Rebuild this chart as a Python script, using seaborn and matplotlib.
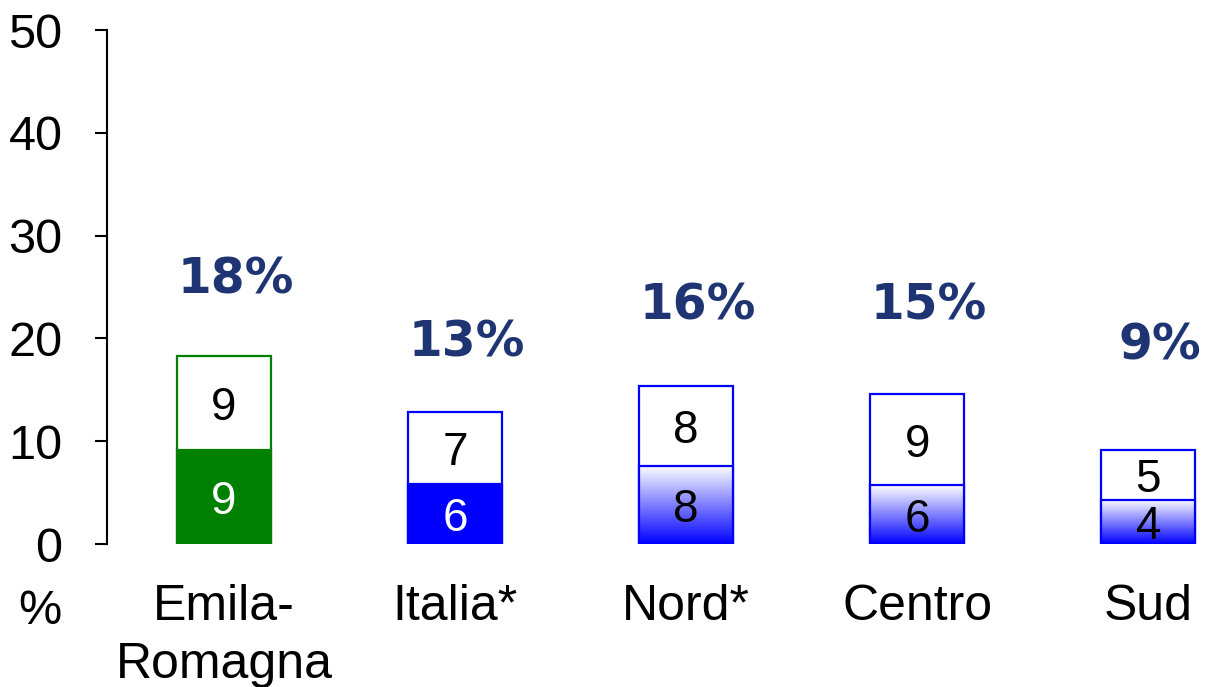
import numpy as np
import pandas as pd
import matplotlib
matplotlib.use("Agg")
import matplotlib.pyplot as plt
import seaborn as sns
from matplotlib.colors import LinearSegmentedColormap

categories = ["Emila-\nRomagna", "Italia*", "Nord*", "Centro", "Sud"]
bottom_vals = [9.1, 5.8, 7.6, 5.7, 4.3]
top_vals = [9.2, 7.0, 7.8, 8.9, 4.8]
bottom_labels = ["9", "6", "8", "6", "4"]
top_labels = ["9", "7", "8", "9", "5"]
total_labels = ["18%", "13%", "16%", "15%", "9%"]
yticks = [0, 10, 20, 30, 40, 50]

# styling (not data)
edge_colors = ["#008000", "#0000FF", "#0000FF", "#0000FF", "#0000FF"]
fill_colors = ["#008000", "#0000FF", None, None, None]  # None -> gradient
bottom_text_colors = ["white", "white", "black", "black", "black"]
label_offsets = [7.4, 6.8, 7.8, 8.6, 10.2]
navy = "#1F3573"

sns.set_theme(style="white")
plt.rcParams["font.family"] = ["Liberation Sans", "DejaVu Sans"]
plt.rcParams["text.color"] = "black"
plt.rcParams["xtick.color"] = "black"
plt.rcParams["ytick.color"] = "black"
plt.rcParams["axes.labelcolor"] = "black"

totals = [b + t for b, t in zip(bottom_vals, top_vals)]
df = pd.DataFrame({"cat": categories, "bottom": bottom_vals, "total": totals})

fig = plt.figure(figsize=(12.12, 6.87), dpi=100)
ax = fig.add_axes([107 / 1212, 143 / 687, 1106 / 1212, 514 / 687])

W = 0.407
sns.barplot(data=df, x="cat", y="total", ax=ax, width=W, color="white",
            saturation=1, zorder=2)
sns.barplot(data=df, x="cat", y="bottom", ax=ax, width=W, color="white",
            saturation=1, zorder=3)

n = len(categories)
top_patches = ax.patches[:n]
bot_patches = ax.patches[n:2 * n]

grad = np.linspace(0, 1, 256).reshape(-1, 1)
cmap = LinearSegmentedColormap.from_list("wb", ["#FFFFFF", "#0000FF"])

for i in range(n):
    tp = top_patches[i]
    bp = bot_patches[i]
    tp.set_facecolor("white")
    tp.set_edgecolor(edge_colors[i])
    tp.set_linewidth(1.6)
    bp.set_edgecolor(edge_colors[i])
    bp.set_linewidth(1.6)
    if fill_colors[i] is not None:
        bp.set_facecolor(fill_colors[i])
    else:
        bp.set_facecolor("none")
        x0 = bp.get_x()
        w = bp.get_width()
        h = bp.get_height()
        im = ax.imshow(grad[::-1], extent=[x0, x0 + w, 0, h], origin="lower",
                       cmap=cmap, aspect="auto", zorder=2.5,
                       interpolation="bicubic")
        im.set_clip_path(bp)
    xc = tp.get_x() + tp.get_width() / 2
    ax.text(xc, bottom_vals[i] / 2, bottom_labels[i], ha="center",
            va="center_baseline", fontsize=33, color=bottom_text_colors[i],
            zorder=5)
    ax.text(xc, bottom_vals[i] + top_vals[i] / 2, top_labels[i], ha="center",
            va="center_baseline", fontsize=33, color="black", zorder=5)
    ax.text(xc + 0.05, totals[i] + label_offsets[i], total_labels[i],
            ha="center", va="center", fontsize=35, fontweight="bold",
            color=navy, family="DejaVu Sans", zorder=5)

ax.set_xlim(-0.506, 4.28)
ax.set_ylim(0, 50)
ax.set_yticks(yticks)
ax.set_yticklabels([str(v) for v in yticks], fontsize=35)
ax.set_xlabel("")
ax.set_ylabel("")
ax.tick_params(axis="x", length=0, pad=29, labelsize=36)
ax.tick_params(axis="y", left=True, length=9, width=1.5, color="black",
               pad=23, labelsize=35)
for lbl in ax.get_xticklabels():
    lbl.set_linespacing(1.32)
for s in ["top", "right", "bottom"]:
    ax.spines[s].set_visible(False)
ax.spines["left"].set_color("black")
ax.spines["left"].set_linewidth(1.5)
ax.patch.set_alpha(0)

fig.text(40 / 1212, 1 - 612 / 687, "%", ha="center", va="center", fontsize=35)

fig.savefig("out.png", dpi=100)
